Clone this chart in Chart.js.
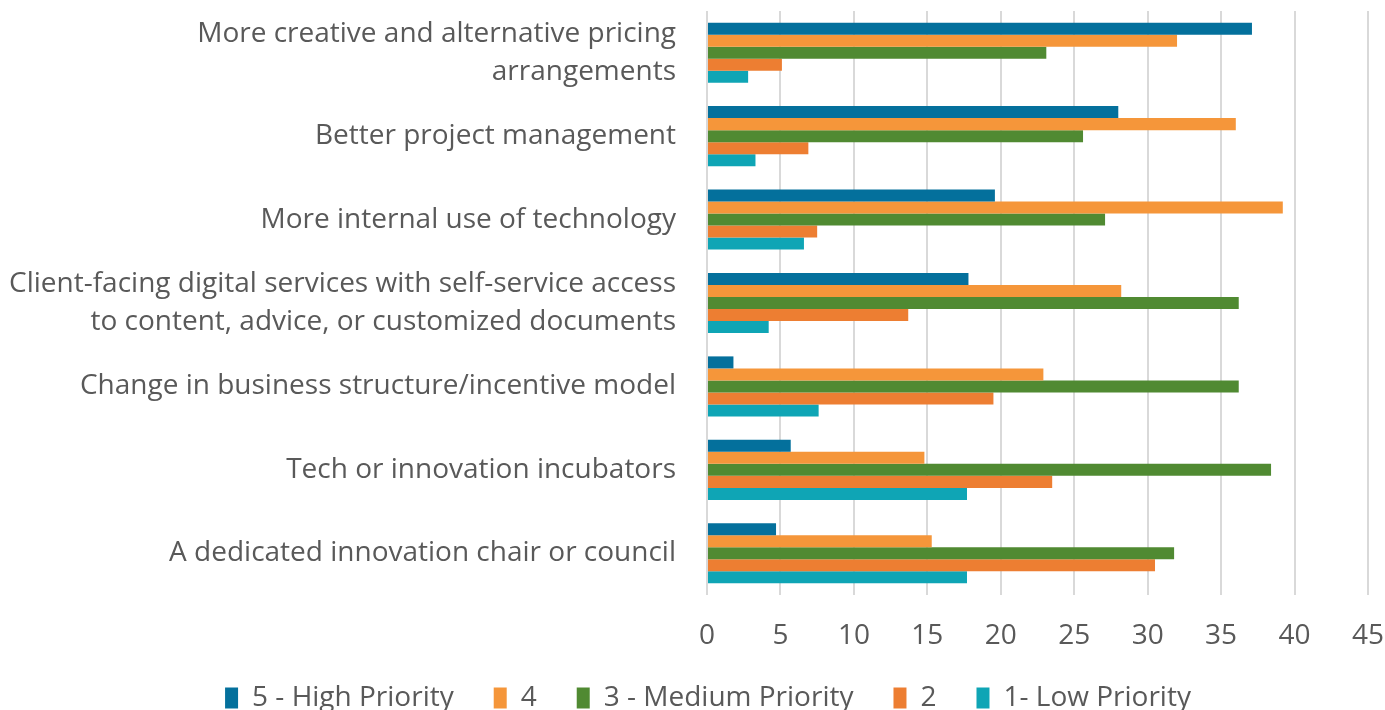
<!DOCTYPE html>
<html>
<head>
<meta charset="utf-8">
<script src="https://cdn.jsdelivr.net/npm/chart.js@4.4.1/dist/chart.umd.min.js"></script>
<style>
html,body{margin:0;padding:0;background:#fff;}
#wrap{width:1385px;height:710px;position:relative;}
</style>
</head>
<body>
<div id="wrap"><canvas id="c" width="1385" height="710"></canvas></div>
<script>
const categories = [
  ["More creative and alternative pricing", "arrangements"],
  "Better project management",
  "More internal use of technology",
  ["Client-facing digital services with self-service access", "to content, advice, or customized documents"],
  "Change in business structure/incentive model",
  "Tech or innovation incubators",
  "A dedicated innovation chair or council"
];
const seriesNames = ["5 - High Priority", "4", "3 - Medium Priority", "2", "1- Low Priority"];
const highPriority   = [37.1, 28.0, 19.6, 17.8, 1.8, 5.7, 4.7];
const priority4      = [32.0, 36.0, 39.2, 28.2, 22.9, 14.8, 15.3];
const mediumPriority = [23.1, 25.6, 27.1, 36.2, 36.2, 38.4, 31.8];
const priority2      = [5.1, 6.9, 7.5, 13.7, 19.5, 23.5, 30.5];
const lowPriority    = [2.8, 3.3, 6.6, 4.2, 7.6, 17.7, 17.7];
const xTicks = [0, 5, 10, 15, 20, 25, 30, 35, 40, 45];

const colors = ["#04709c", "#f5963a", "#508a32", "#ed7e32", "#0fa5b5"];
const values = [highPriority, priority4, mediumPriority, priority2, lowPriority];
const textColor = "#595959";
const fontFamily = "'Open Sans', Lato, sans-serif";

new Chart(document.getElementById("c"), {
  type: "bar",
  data: {
    labels: categories,
    datasets: seriesNames.map((n, i) => ({
      label: n,
      data: values[i],
      backgroundColor: colors[i],
      borderWidth: 0,
      barPercentage: 1.0,
      categoryPercentage: 0.72
    }))
  },
  options: {
    indexAxis: "y",
    responsive: false,
    animation: false,
    layout: { padding: { left: 48, right: 17, top: 11, bottom: -12 } },
    plugins: {
      legend: {
        position: "bottom",
        labels: {
          color: textColor,
          font: { family: fontFamily, size: 28 },
          boxWidth: 13,
          boxHeight: 21,
          padding: 40
        }
      },
      tooltip: { enabled: false }
    },
    scales: {
      x: {
        min: 0,
        max: 45,
        afterBuildTicks: (s) => { s.ticks = xTicks.map(v => ({ value: v })); },
        grid: { color: "#d9d9d9", lineWidth: 2, drawTicks: false },
        border: { display: false },
        ticks: { color: textColor, font: { family: fontFamily, size: 28 }, padding: 24 },
        afterFit: (s) => {
          s.height = 49; s.paddingLeft = 0; s.paddingRight = 0;
          s._computeLabelArea = () => null;
        }
      },
      y: {
        grid: { display: false, drawTicks: false },
        border: { display: false },
        ticks: {
          color: textColor,
          font: { family: fontFamily, size: 28, lineHeight: 1.36 },
          padding: 31,
          autoSkip: false
        },
        afterFit: (s) => {
          s.width = 659; s.paddingTop = 0; s.paddingBottom = 0;
          s._computeLabelArea = () => null;
        }
      }
    }
  }
});
</script>
</body>
</html>
